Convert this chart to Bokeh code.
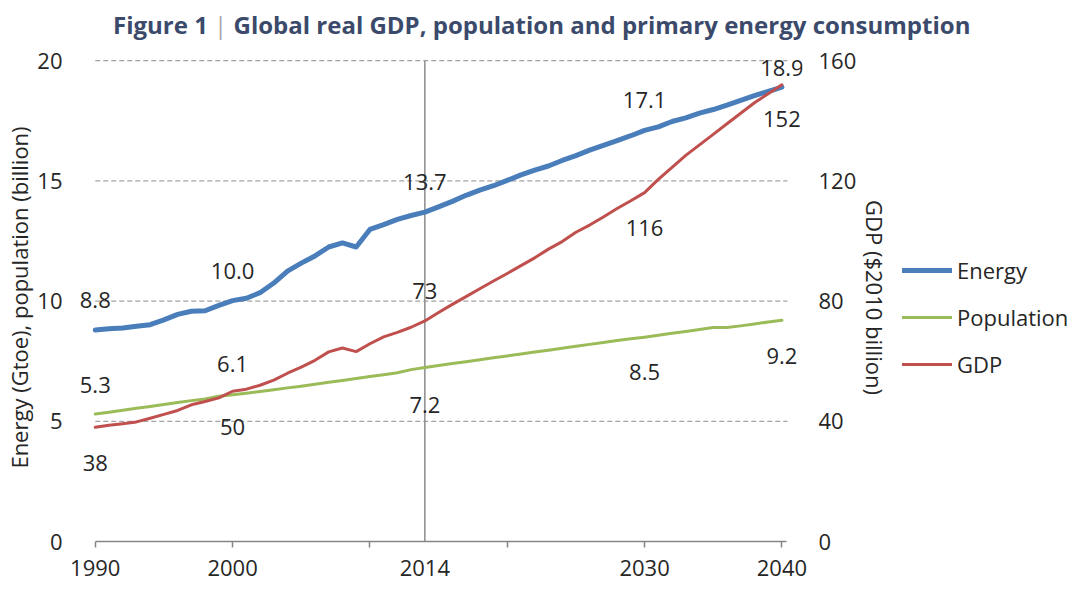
from bokeh.plotting import figure
from bokeh.models import (Range1d, LinearAxis, FixedTicker, Legend, LegendItem, Label, Div)
from bokeh.layouts import column, row
from bokeh.embed import file_html
from bokeh.resources import INLINE

# ---------------- data ----------------
years = list(range(1990, 2041))
energy = [8.80, 8.85, 8.88, 8.95, 9.02, 9.22, 9.45, 9.58, 9.60, 9.82,
          10.02, 10.12, 10.35, 10.75, 11.25, 11.58, 11.88, 12.25, 12.42, 12.25,
          12.98, 13.18, 13.40, 13.56, 13.70, 13.92, 14.15, 14.40, 14.62, 14.80,
          15.02, 15.25, 15.45, 15.62, 15.85, 16.05, 16.28, 16.48, 16.68, 16.88,
          17.10, 17.25, 17.47, 17.62, 17.82, 17.97, 18.15, 18.35, 18.55, 18.72,
          18.90]
population = [5.30, 5.38, 5.46, 5.54, 5.62, 5.70, 5.78, 5.86, 5.93, 6.04,
              6.10, 6.17, 6.24, 6.31, 6.39, 6.46, 6.54, 6.62, 6.70, 6.78,
              6.86, 6.94, 7.02, 7.15, 7.24, 7.32, 7.40, 7.48, 7.56, 7.64,
              7.72, 7.80, 7.88, 7.96, 8.04, 8.12, 8.20, 8.28, 8.36, 8.43,
              8.50, 8.58, 8.66, 8.74, 8.82, 8.90, 8.90, 8.97, 9.05, 9.13,
              9.20]
gdp = [38.0, 38.7, 39.2, 39.8, 41.0, 42.3, 43.6, 45.5, 46.6, 47.8,
       50.0, 50.7, 52.0, 53.7, 56.0, 58.0, 60.3, 63.1, 64.4, 63.2,
       65.8, 68.1, 69.6, 71.3, 73.4, 76.2, 78.9, 81.5, 84.1, 86.7,
       89.2, 91.8, 94.4, 97.3, 99.8, 102.9, 105.3, 108.0, 110.8, 113.4,
       116.1, 120.5, 124.5, 128.5, 132.0, 135.5, 139.0, 142.5, 146.0, 149.0,
       152.0]

x_tick_values = [1990, 2000, 2014, 2030, 2040]
x_tick_labels = ["1990", "2000", "2014", "2030", "2040"]
x_tick_marks = [1990, 2000, 2010, 2020, 2030, 2040]
left_ticks = [0, 5, 10, 15, 20]
right_ticks = [0, 40, 80, 120, 160]
grid_ticks = [5, 10, 15, 20]
marker_year = 2014

label_years = [1990, 2000, 2014, 2030, 2040]
energy_labels = ["8.8", "10.0", "13.7", "17.1", "18.9"]
population_labels = ["5.3", "6.1", "7.2", "8.5", "9.2"]
gdp_labels = ["38", "50", "73", "116", "152"]

series_names = ["Energy", "Population", "GDP"]
title_main = "Figure 1"
title_rest = "Global real GDP, population and primary energy consumption"

# ---------------- style ----------------
FONT = "Open Sans"
TEXT = "#262626"
GRID = "#8c8c8c"
C_E, C_P, C_G = "#4a7ebb", "#9bbb59", "#c0504d"
FS = "22px"
energy_dy = [30, 30, 30, 30, 19]
population_dy = [29, 31, -38, -35, -36]
gdp_dy = [-36, -36, 30, -35, -34]

# ---------------- title ----------------
title_div = Div(
    text=(f'<div style="font-family:\'Open Sans\';font-size:24px;font-weight:bold;color:#3b4a6b;'
          f'line-height:30px;padding-top:10px;padding-left:113px;white-space:nowrap;">{title_main} '
          f'<span style="color:#a6a6a6;font-weight:normal;">|</span> {title_rest}</div>'),
    width=1073, height=40, margin=0)

# ---------------- main plot ----------------
p = figure(width=902, height=549, output_backend="svg", toolbar_location=None,
           x_range=Range1d(1988.78, 2041.5), y_range=Range1d(0, 20.3),
           min_border_left=78, min_border_top=13, min_border_bottom=48, min_border_right=100)
p.title.text = ""
p.outline_line_color = None
p.background_fill_color = "white"
p.border_fill_color = "white"
p.extra_y_ranges = {"gdp": Range1d(0, 162.4)}

# grid (drawn over the data span only)
p.xgrid.visible = False
p.ygrid.visible = False
p.segment(x0=years[0], x1=years[-1] + 0.4, y0=grid_ticks, y1=grid_ticks,
          line_color=GRID, line_dash="5 3", line_width=1, level="underlay")
p.segment(x0=[marker_year], x1=[marker_year], y0=[left_ticks[0]], y1=[left_ticks[-1]],
          line_color=GRID, line_width=1.5, level="underlay")

# x axis
xa = p.xaxis[0]
xa.bounds = (years[0], years[-1] + 0.3)
xa.ticker = FixedTicker(ticks=x_tick_values, minor_ticks=x_tick_marks)
xa.major_label_overrides = {v: l for v, l in zip(x_tick_values, x_tick_labels)}
xa.major_tick_out = 0
xa.major_tick_in = 0
xa.minor_tick_out = 6
xa.minor_tick_in = 0
xa.minor_tick_line_color = "#868686"
xa.minor_tick_line_width = 1.5
xa.axis_line_color = "#868686"
xa.axis_line_width = 1.5
xa.major_label_standoff = 12
xa.major_label_text_font = FONT
xa.major_label_text_font_size = FS
xa.major_label_text_color = TEXT

# left axis
ya = p.yaxis[0]
ya.ticker = FixedTicker(ticks=left_ticks)
ya.axis_line_color = None
ya.major_tick_line_color = None
ya.minor_tick_line_color = None
ya.major_label_standoff = 10
ya.major_label_text_font = FONT
ya.major_label_text_font_size = FS
ya.major_label_text_color = TEXT
ya.axis_label = "Energy (Gtoe), population (billion)"
ya.axis_label_text_font = FONT
ya.axis_label_text_font_size = FS
ya.axis_label_text_font_style = "normal"
ya.axis_label_text_color = TEXT
ya.axis_label_standoff = 0

# right axis
ra = LinearAxis(y_range_name="gdp", ticker=FixedTicker(ticks=right_ticks))
ra.axis_line_color = None
ra.major_tick_line_color = None
ra.minor_tick_line_color = None
ra.major_label_standoff = 10
ra.major_label_text_font = FONT
ra.major_label_text_font_size = FS
ra.major_label_text_color = TEXT
ra.axis_label = "GDP ($2010 billion)"
ra.axis_label_text_font = FONT
ra.axis_label_text_font_size = FS
ra.axis_label_text_font_style = "normal"
ra.axis_label_text_color = TEXT
ra.axis_label_standoff = 1
p.add_layout(ra, "right")

# lines
line_styles = [dict(line_color=C_E, line_width=5), dict(line_color=C_P, line_width=3),
               dict(line_color=C_G, line_width=3)]
r_e = p.line(years, energy, line_cap="round", line_join="round", **line_styles[0])
r_p = p.line(years, population, line_cap="round", line_join="round", **line_styles[1])
r_g = p.line(years, gdp, line_cap="round", line_join="round", y_range_name="gdp", **line_styles[2])

# data labels
for series, texts, dys, rng in [(energy, energy_labels, energy_dy, "default"),
                                (population, population_labels, population_dy, "default"),
                                (gdp, gdp_labels, gdp_dy, "gdp")]:
    for yr, txt, dy in zip(label_years, texts, dys):
        p.add_layout(Label(x=yr, y=series[years.index(yr)], text=txt, y_offset=dy,
                           y_range_name=rng, text_align="center", text_baseline="middle",
                           text_font=FONT, text_font_size=FS, text_color=TEXT))

# ---------------- legend panel ----------------
# the series are drawn again here only as legend keys; the ranges keep them out of view
lg = figure(width=171, height=549, output_backend="svg", toolbar_location=None,
            x_axis_location=None, y_axis_location=None,
            x_range=Range1d(0, 1), y_range=Range1d(0, 1),
            min_border_left=0, min_border_right=0, min_border_top=0, min_border_bottom=0)
lg.title.text = ""
lg.outline_line_color = None
lg.grid.visible = False
lg.background_fill_color = "white"
lg.border_fill_color = "white"
l_e = lg.line(years, energy, line_cap="round", **line_styles[0])
l_p = lg.line(years, population, line_cap="round", **line_styles[1])
l_g = lg.line(years, gdp, line_cap="round", **line_styles[2])

legend = Legend(items=[LegendItem(label=series_names[0], renderers=[l_e]),
                       LegendItem(label=series_names[1], renderers=[l_p]),
                       LegendItem(label=series_names[2], renderers=[l_g])],
                location=(0, 162))
legend.label_text_font = FONT
legend.label_text_font_size = FS
legend.label_text_color = TEXT
legend.glyph_width = 50
legend.glyph_height = 30
legend.label_height = 30
legend.label_standoff = 5
legend.spacing = 17
legend.padding = 0
legend.margin = 0
legend.border_line_color = None
legend.background_fill_alpha = 0
lg.add_layout(legend)

layout = column(title_div, row(p, lg, spacing=0), spacing=0)
open("out.html", "w").write(file_html(layout, INLINE))
